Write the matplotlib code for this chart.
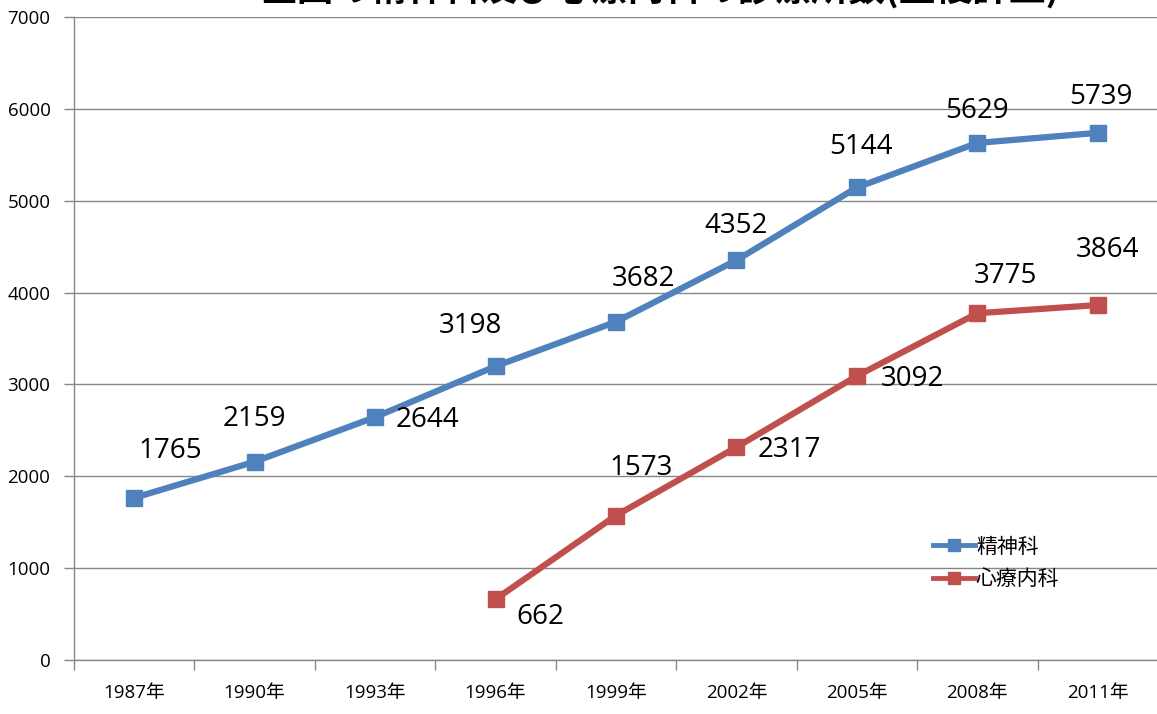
"""Clinics of psychiatry and psychosomatic medicine in Japan, 1987-2011."""

import matplotlib

matplotlib.use("Agg")
import matplotlib.pyplot as plt
import numpy as np

plt.rcParams["font.family"] = ["Open Sans", "Noto Sans CJK JP", "DejaVu Sans"]

years = ["1987年", "1990年", "1993年", "1996年", "1999年", "2002年", "2005年", "2008年", "2011年"]
psychiatry = [1765, 2159, 2644, 3198, 3682, 4352, 5144, 5629, 5739]
psychosomatic = [np.nan, np.nan, np.nan, 662, 1573, 2317, 3092, 3775, 3864]

# label offsets in points (dx, dy) relative to each marker
psychiatry_offsets = [(26, 34), (0, 31), (38, -2), (-18, 29), (20, 31), (0, 25), (3, 29), (0, 23), (2, 26)]
psychosomatic_offsets = [(32, -13), (18, 34), (38, -2), (40, -2), (20, 27), (7, 40)]

BLUE = "#4F81BD"
RED = "#C0504D"
GRAY = "#868686"

fig = plt.figure(figsize=(11.57, 7.14), dpi=100)
ax = fig.add_axes([74 / 1157, 54 / 714, 1084 / 1157, 643 / 714])

x = np.arange(len(years))
ax.plot(x, psychiatry, color=BLUE, lw=4.5, marker="s", ms=11, label="精神科", zorder=3)
ax.plot(x, psychosomatic, color=RED, lw=4.5, marker="s", ms=11, label="心療内科", zorder=3)

for xi, val, (dx, dy) in zip(x, psychiatry, psychiatry_offsets):
    ax.annotate(str(val), (xi, val), xytext=(dx, dy), textcoords="offset points",
                ha="center", va="center", fontsize=20, color="black")

red_x = [xi for xi, v in zip(x, psychosomatic) if not np.isnan(v)]
red_v = [v for v in psychosomatic if not np.isnan(v)]
for xi, val, (dx, dy) in zip(red_x, red_v, psychosomatic_offsets):
    ax.annotate(str(int(val)), (xi, val), xytext=(dx, dy), textcoords="offset points",
                ha="center", va="center", fontsize=20, color="black")

ax.set_xlim(-0.5, len(years) - 0.5)
ax.set_ylim(0, 7000)
ax.set_yticks(range(0, 7001, 1000))
ax.yaxis.grid(True, color=GRAY, lw=1)
ax.set_axisbelow(True)

ax.set_xticks(x)
ax.set_xticklabels(years, fontsize=13.5)
ax.set_xticks(np.arange(-0.5, len(years)), minor=True)
ax.tick_params(axis="x", which="major", length=0, pad=17)
ax.tick_params(axis="x", which="minor", length=7, color=GRAY, width=1)
ax.tick_params(axis="y", length=7, color=GRAY, width=1, labelsize=13.5, pad=10)

for side in ["top", "right"]:
    ax.spines[side].set_visible(False)
for side in ["left", "bottom"]:
    ax.spines[side].set_color(GRAY)
    ax.spines[side].set_linewidth(1)

leg = ax.legend(loc="upper left", bbox_to_anchor=(0.785, 0.205), frameon=False,
                fontsize=15, handlelength=2.0, handletextpad=0.05, labelspacing=0.55,
                borderaxespad=0)
for h in leg.legend_handles:
    h.set_linewidth(3.5)
    h.set_markersize(9)

fig.text(660 / 1157, 1 - 9 / 714, "全国の精神科及び心療内科の診療所数(重複計上)",
         ha="center", va="bottom", fontsize=26.5, fontweight="bold",
         family=["Noto Sans CJK JP", "DejaVu Sans"])

fig.savefig("out.png", dpi=100)
